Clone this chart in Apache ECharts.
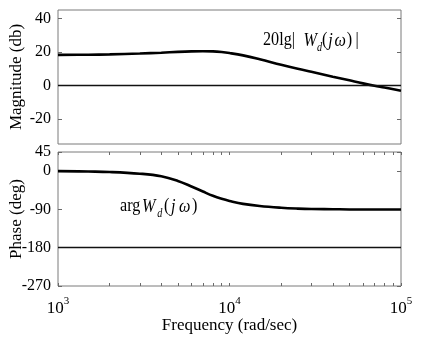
<!DOCTYPE html>
<html><head><meta charset="utf-8">
<script src="https://cdn.jsdelivr.net/npm/echarts@6/dist/echarts.min.js"></script>
<style>html,body{margin:0;padding:0;background:#fff}#c{width:421px;height:338px}</style>
</head><body><div id="c"></div>
<script>
const freqs = [1000,1500,2000,3000,4000,5000,6000,7000,8000,9000,10000,12000,15000,20000,25000,30000,40000,50000,60000,70000,80000,100000];
const magnitudeDb = [18.2,18.3,18.5,19.0,19.5,20.0,20.3,20.4,20.3,19.9,19.3,17.9,15.6,12.3,9.9,8.1,5.2,3.0,1.2,-0.2,-1.3,-3.2];
const phaseDeg = [0,-1,-2,-6,-12,-23,-36,-48,-58,-65,-70,-77,-82,-86,-88,-89,-89.5,-90,-90,-90,-90,-90];
const magTicks = [-20,0,20,40];
const phaseTicks = [-270,-180,-90,0,45];
const freqLabelTicks = [1000,10000,100000];
const freqAllTicks = [1000,2000,3000,4000,5000,6000,7000,8000,9000,10000,20000,30000,40000,50000,60000,70000,80000,90000,100000];
const magRef = 0, phaseRef = -180;

const FONT = 'Liberation Serif';
const FRAME = '#7a7a7a';
const TICK = '#6a6a6a';
const chart = echarts.init(document.getElementById('c'));

function yAxisBase(grid, min, max, ticks, right) {
  return {
    type: 'value', gridIndex: grid, min: min, max: max, position: right ? 'right' : 'left',
    nameMoveOverlap: false,
    axisLine: {show: false, onZero: false},
    splitLine: {show: false},
    axisTick: {show: true, inside: true, length: 4, customValues: ticks, lineStyle: {color: TICK}},
    axisLabel: {show: !right, customValues: ticks, color: '#000', fontFamily: FONT, fontSize: 16, margin: 7}
  };
}

const annoRich = {
  n: {fontFamily: FONT, fontSize: 19, fill: '#000', verticalAlign: 'bottom', padding: [0,0,4,0]},
  i: {fontFamily: FONT, fontStyle: 'italic', fontSize: 19, fill: '#000', verticalAlign: 'bottom', padding: [0,0,4,0]},
  ip: {fontFamily: FONT, fontStyle: 'italic', fontSize: 19, fill: '#000', verticalAlign: 'bottom', padding: [0,2,4,2]},
  ip1: {fontFamily: FONT, fontStyle: 'italic', fontSize: 19, fill: '#000', verticalAlign: 'bottom', padding: [0,1,4,1]},
  d: {fontFamily: FONT, fontStyle: 'italic', fontSize: 12, fill: '#000', verticalAlign: 'bottom'},
  dp: {fontFamily: FONT, fontStyle: 'italic', fontSize: 12, fill: '#000', verticalAlign: 'bottom', padding: [0,2,0,0]},
  sp10: {width: 10, fontSize: 19, verticalAlign: 'bottom'},
  sp4: {width: 4, fontSize: 19, verticalAlign: 'bottom'}
};

const gridBase = {width: 343, height: 134, show: true, borderColor: FRAME, borderWidth: 1,
  backgroundColor: 'transparent', containLabel: false, outerBoundsMode: 'none'};

const option = {
  animation: false,
  backgroundColor: '#fff',
  grid: [
    Object.assign({left: 58, top: 10}, gridBase),
    Object.assign({left: 58, top: 152}, gridBase)
  ],
  xAxis: [
    {type: 'log', logBase: 10, gridIndex: 0, min: 1000, max: 100000,
     axisLine: {show: false, onZero: false}, axisTick: {show: false}, axisLabel: {show: false}, splitLine: {show: false}},
    {type: 'log', logBase: 10, gridIndex: 1, min: 1000, max: 100000, position: 'bottom',
     name: 'Frequency (rad/sec)', nameLocation: 'middle', nameGap: 31, nameMoveOverlap: false,
     nameTextStyle: {color: '#000', fontFamily: FONT, fontSize: 17},
     axisLine: {show: false, onZero: false}, splitLine: {show: false},
     axisTick: {show: true, inside: true, length: 3, customValues: freqAllTicks, lineStyle: {color: TICK}},
     axisLabel: {show: true, customValues: freqLabelTicks, margin: 10,
       formatter: v => '{b|10}{s|' + Math.round(Math.log10(v)) + '}',
       rich: {b: {fontFamily: FONT, fontSize: 17, color: '#000', verticalAlign: 'bottom'},
              s: {fontFamily: FONT, fontSize: 11, color: '#000', verticalAlign: 'bottom', padding: [0,0,10,0]}}}},
    {type: 'log', logBase: 10, gridIndex: 1, min: 1000, max: 100000, position: 'top',
     axisLine: {show: false, onZero: false}, splitLine: {show: false}, axisLabel: {show: false},
     axisTick: {show: true, inside: true, length: 3, customValues: freqAllTicks, lineStyle: {color: TICK}}}
  ],
  yAxis: [
    Object.assign(yAxisBase(0, -35, 45, magTicks, false), {
      name: 'Magnitude (db)', nameLocation: 'middle', nameGap: 33,
      nameTextStyle: {color: '#000', fontFamily: FONT, fontSize: 17}}),
    yAxisBase(0, -35, 45, magTicks, true),
    Object.assign(yAxisBase(1, -270, 45, phaseTicks, false), {
      name: 'Phase (deg)', nameLocation: 'middle', nameGap: 33,
      nameTextStyle: {color: '#000', fontFamily: FONT, fontSize: 17}}),
    yAxisBase(1, -270, 45, phaseTicks, true)
  ],
  series: [
    {type: 'line', xAxisIndex: 0, yAxisIndex: 0, showSymbol: false, smooth: 0.4,
     data: freqs.map((f, i) => [f, magnitudeDb[i]]),
     lineStyle: {color: '#000', width: 2.6},
     markLine: {silent: true, symbol: 'none', label: {show: false},
       lineStyle: {color: '#111', width: 1.4, type: 'solid'}, data: [{yAxis: magRef}]}},
    {type: 'line', xAxisIndex: 1, yAxisIndex: 2, showSymbol: false, smooth: 0.4,
     data: freqs.map((f, i) => [f, phaseDeg[i]]),
     lineStyle: {color: '#000', width: 2.6},
     markLine: {silent: true, symbol: 'none', label: {show: false},
       lineStyle: {color: '#111', width: 1.4, type: 'solid'}, data: [{yAxis: phaseRef}]}}
  ],
  graphic: [
    {type: 'text', x: 263, y: 31, scaleX: 0.85, silent: true, style: {
      text: '{n|20lg|}{sp10| }{i|W}{d|d}{n|(}{ip1|j}{ip1|ω}{n|)}{sp4| }{n||}', rich: annoRich}},
    {type: 'text', x: 120, y: 197, scaleX: 0.85, silent: true, style: {
      text: '{n|arg}{ip|W}{dp|d}{n|(}{ip|j}{ip|ω}{n|)}', rich: annoRich}}
  ]
};
chart.setOption(option);
</script></body></html>
